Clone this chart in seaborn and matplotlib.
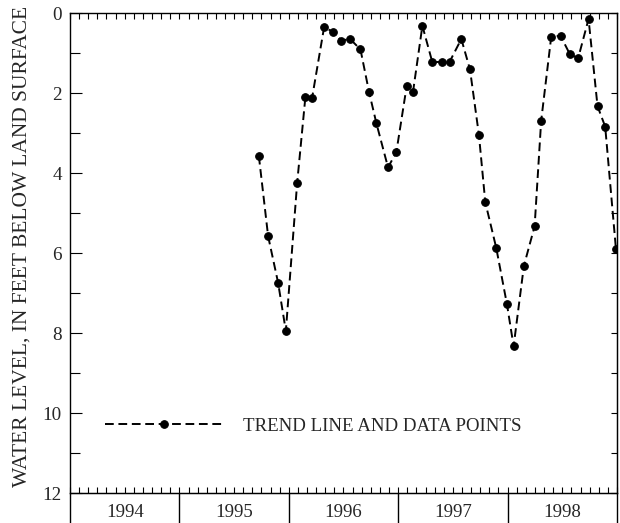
import numpy as np
import pandas as pd
import seaborn as sns
import matplotlib.pyplot as plt

# decimal year of each measurement and depth to water (ft below land surface)
years = [1995.726, 1995.811, 1995.902, 1995.973, 1996.076, 1996.152, 1996.213,
         1996.323, 1996.408, 1996.481, 1996.560, 1996.655, 1996.734, 1996.801,
         1996.907, 1996.983, 1997.078, 1997.135, 1997.221, 1997.312, 1997.400,
         1997.470, 1997.577, 1997.656, 1997.738, 1997.796, 1997.896, 1997.994,
         1998.055, 1998.149, 1998.247, 1998.307, 1998.399, 1998.484, 1998.569,
         1998.645, 1998.740, 1998.822, 1998.892, 1998.990]
depth = [3.57, 5.58, 6.74, 7.95, 4.26, 2.09, 2.12,
         0.35, 0.48, 0.69, 0.65, 0.91, 1.98, 2.76,
         3.86, 3.48, 1.82, 1.98, 0.32, 1.23, 1.22,
         1.22, 0.65, 1.41, 3.05, 4.73, 5.87, 7.28,
         8.33, 6.32, 5.33, 2.69, 0.59, 0.57, 1.03,
         1.13, 0.15, 2.33, 2.84, 5.89]
year_labels = ['1994', '1995', '1996', '1997', '1998']
legend_label = 'TREND LINE AND DATA POINTS'
ylabel = 'WATER LEVEL, IN FEET BELOW LAND SURFACE'

df = pd.DataFrame({'year': years, 'depth': depth})

sns.set_style('ticks')
plt.rcParams['font.family'] = ['Liberation Serif', 'DejaVu Serif']
plt.rcParams['font.size'] = 13.6

fig = plt.figure(figsize=(6.2, 5.23), dpi=100)
ax = fig.add_axes([70/620, 1-493/523, 547/620, 480/523])

sns.lineplot(data=df, x='year', y='depth', ax=ax, color='black',
             linestyle=(0, (4.5, 2.4)), linewidth=1.4, marker='o', markersize=5.5,
             markeredgecolor='black', label=legend_label, sort=False)

ax.set_xlim(1994, 1999)
ax.set_ylim(12, 0)

for s in ax.spines.values():
    s.set_color('black')
    s.set_linewidth(1.0)

# month ticks top and bottom
months = np.arange(1994, 1999.001, 1/12)
ax.set_xticks(months)
ax.tick_params(axis='x', which='major', direction='in', length=4.3, width=0.8,
               top=True, bottom=True, labelbottom=False, color='black')

ax.set_yticks(np.arange(0, 13, 2))
ax.set_yticks(np.arange(1, 12, 2), minor=True)
ax.tick_params(axis='y', which='major', direction='in', length=8.6, width=0.8,
               left=True, right=False, pad=6, color='black', labelsize=13.8)
ax.tick_params(axis='y', which='minor', direction='in', length=7.2, width=0.8,
               left=True, right=False, color='black')
ax.set_xlabel('')
ax.set_ylabel(ylabel, fontsize=15.5)
ax.yaxis.set_label_coords(-0.0695, 0.513)

# right side ticks
sec_y = ax.secondary_yaxis('right')
sec_y.set_yticks(np.arange(0, 13, 1))
sec_y.tick_params(direction='in', length=4.3, width=0.8, labelright=False, color='black')

# year separators below the axis and year labels
sec_x = ax.secondary_xaxis('bottom')
sec_x.set_xticks(np.arange(1994, 2000))
sec_x.set_xticks(np.arange(1994.5, 1999), labels=year_labels, minor=True)
sec_x.tick_params(which='major', direction='out', length=22, width=1.0,
                  labelbottom=False, color='black')
sec_x.tick_params(which='minor', length=0, pad=8, labelsize=13.6)

ax.legend(loc='center left', bbox_to_anchor=(0.064, 0.1396), frameon=False,
          handlelength=6.2, handletextpad=1.1, borderpad=0, borderaxespad=0,
          numpoints=1, fontsize=13.6)

fig.savefig('out.png', dpi=100)
